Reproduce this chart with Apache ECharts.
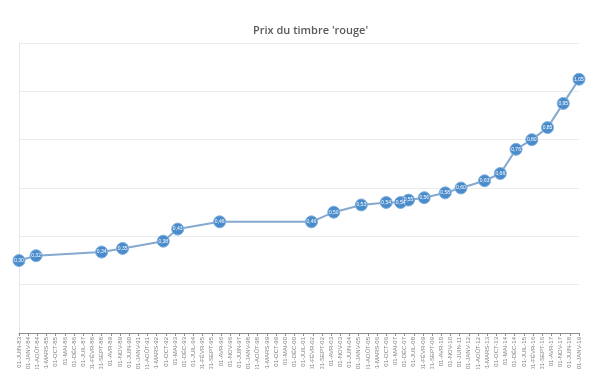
<!DOCTYPE html>
<html>
<head>
    <meta charset="UTF-8">
    <title>Prix du timbre rouge</title>
    <script src="https://cdn.jsdelivr.net/npm/echarts@6/dist/echarts.min.js"></script>
    <style>
        html, body { margin: 0; padding: 0; background: #fff; }
        #chart { width: 593px; height: 369px; }
    </style>
</head>
<body>
<div id="chart"></div>
<script type="text/javascript">
    // dates de changement de tarif (année-mois) et prix en euros
    const dates = ['1983-06', '1984-07', '1988-09', '1990-01', '1992-08', '1993-07', '1996-03',
        '2002-01', '2003-06', '2005-03', '2006-10', '2007-09', '2008-03', '2009-03', '2010-07',
        '2011-07', '2013-01', '2014-01', '2015-01', '2016-01', '2017-01', '2018-01', '2019-01'];
    const prices = [0.30, 0.32, 0.335, 0.35, 0.38, 0.43, 0.46,
        0.46, 0.50, 0.53, 0.54, 0.54, 0.55, 0.56, 0.58,
        0.60, 0.63, 0.66, 0.76, 0.80, 0.85, 0.95, 1.05];
    // libellés des mois pour l'axe
    const monthNames = ['JANV', 'FÉVR', 'MARS', 'AVR', 'MAI', 'JUIN', 'JUIL', 'AOÛT', 'SEPT', 'OCT', 'NOV', 'DÉC'];
    const startYear = 1983, startMonth = 6;   // premier repère : 01-JUIN-83
    const endYear = 2019, endMonth = 1;       // dernier repère : 01-JANV-19
    const stepMonths = 7;

    function toIndex(d) {
        let p = d.split('-');
        return (parseInt(p[0]) - startYear) * 12 + (parseInt(p[1]) - startMonth);
    }
    function indexLabel(i) {
        let m = startMonth - 1 + Math.round(i);
        let y = startYear + Math.floor(m / 12);
        return '01-' + monthNames[m % 12] + '-' + String(y % 100).padStart(2, '0');
    }

    let seriesData = dates.map((d, i) => [toIndex(d), prices[i]]);
    let lastIndex = (endYear - startYear) * 12 + (endMonth - startMonth);

    let chart = echarts.init(document.getElementById('chart'));
    let option = {
        animation: false,
        title: {
            text: "Prix du timbre 'rouge'",
            left: 248,
            top: 20,
            textStyle: {
                fontFamily: 'Open Sans',
                fontSize: 11,
                fontWeight: 600,
                color: '#595959'
            }
        },
        grid: {
            left: 19,
            right: 14,
            top: 43,
            bottom: 36,
            containLabel: false,
            outerBoundsMode: 'none'
        },
        xAxis: {
            type: 'value',
            min: 0,
            max: lastIndex,
            interval: stepMonths,
            splitLine: { show: false },
            axisLine: { lineStyle: { color: '#8c8c8c' } },
            axisTick: { length: 3, lineStyle: { color: '#8c8c8c' } },
            axisLabel: {
                rotate: 90,
                fontSize: 6,
                margin: 4,
                color: '#7f7f7f',
                fontFamily: 'Liberation Sans',
                showMinLabel: true,
                showMaxLabel: true,
                formatter: v => indexLabel(v)
            }
        },
        yAxis: {
            type: 'value',
            min: 0,
            max: 1.2,
            interval: 0.2,
            offset: 7,
            axisLabel: { show: false },
            axisTick: { show: false },
            axisLine: { show: true, lineStyle: { color: '#e6e6e6' } },
            splitLine: { lineStyle: { color: '#ececec' } }
        },
        series: [{
            type: 'line',
            data: seriesData,
            symbol: 'circle',
            symbolSize: 12,
            lineStyle: { color: '#85a9cf', width: 2 },
            itemStyle: {
                color: '#4a8bcb',
                borderColor: '#7eaede',
                borderWidth: 1
            },
            label: {
                show: true,
                position: 'inside',
                fontSize: 5,
                color: '#ffffff',
                formatter: p => p.value[1].toFixed(2).replace('.', ',')
            }
        }]
    };
    chart.setOption(option);
</script>
</body>
</html>
